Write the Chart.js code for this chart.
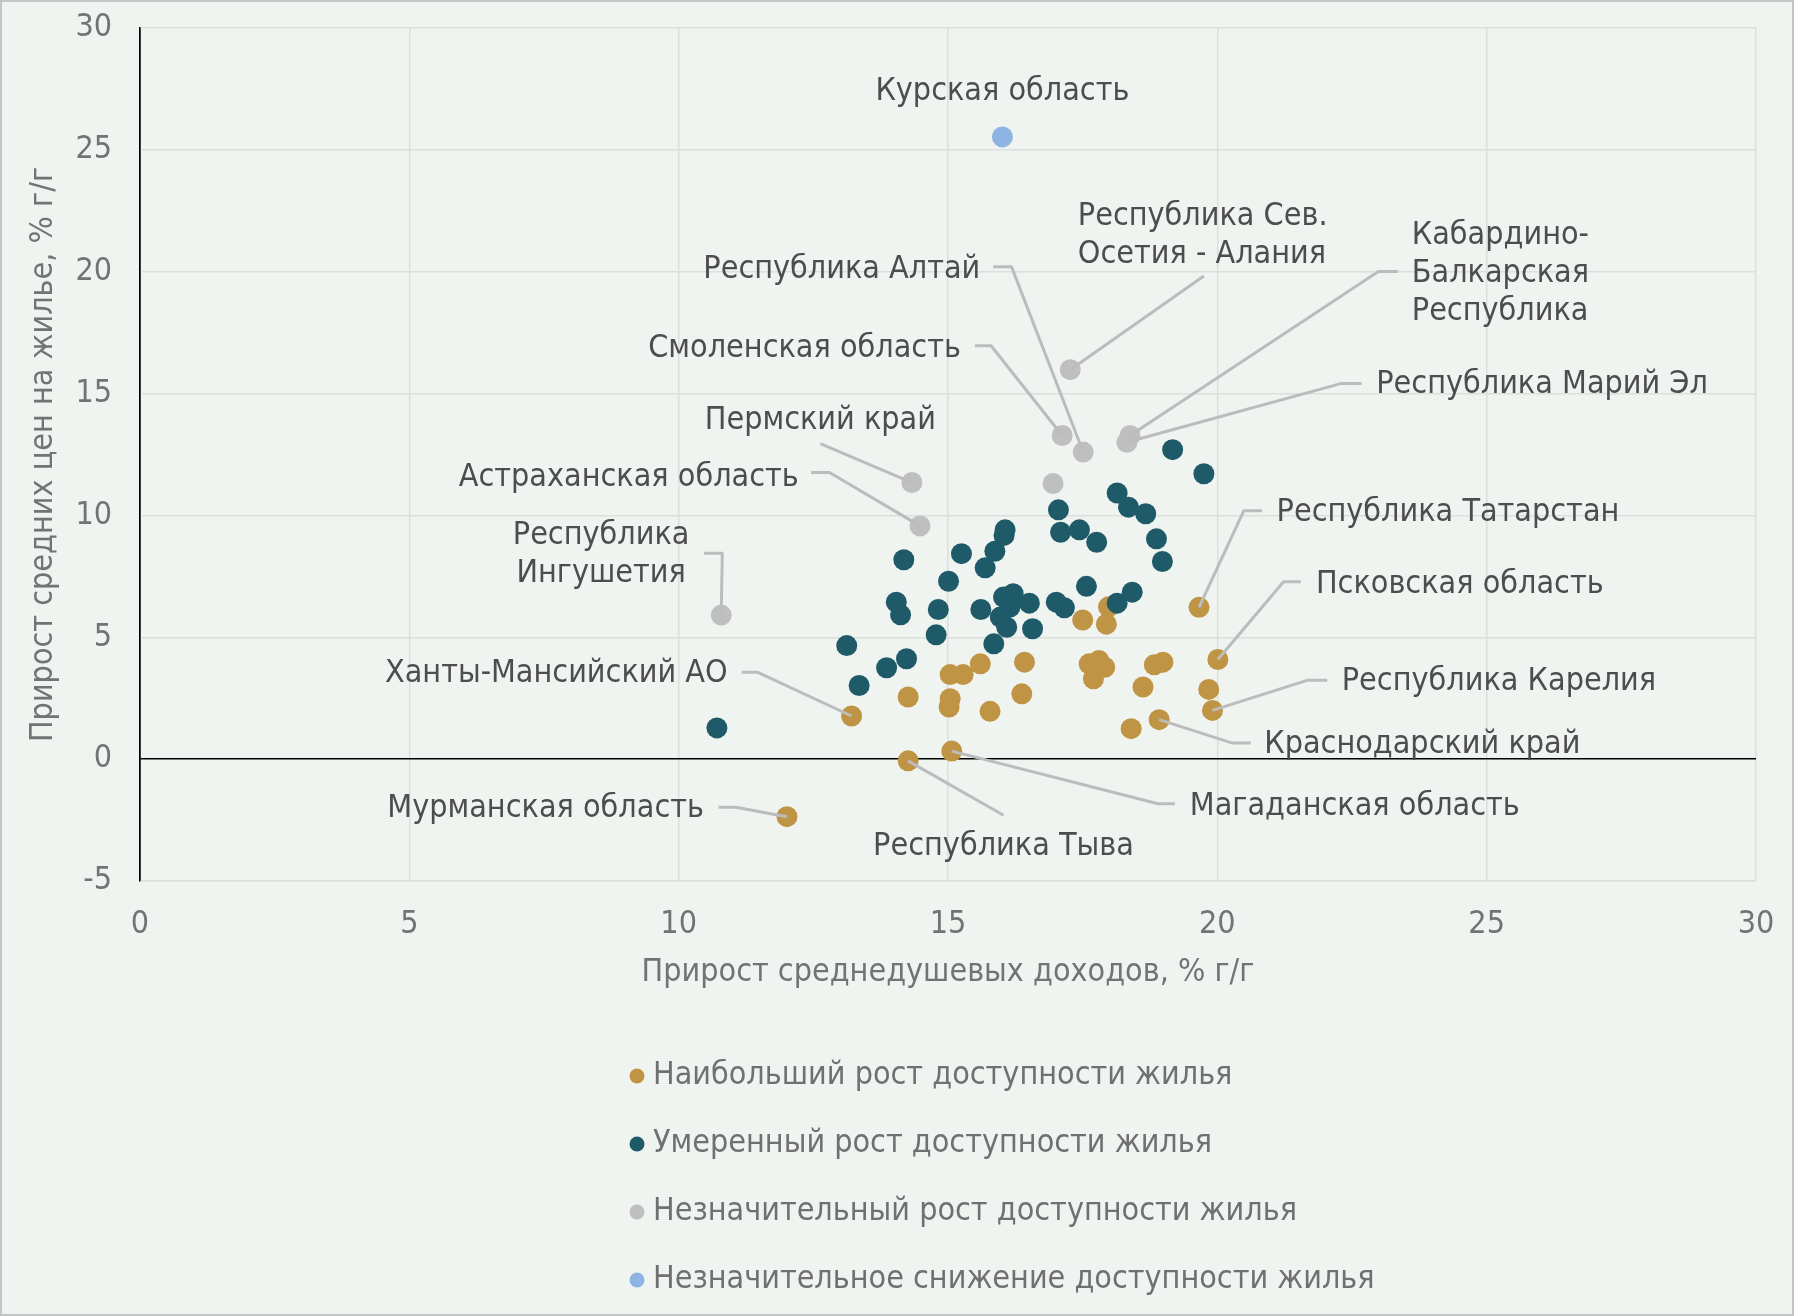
<!DOCTYPE html>
<html>
<head>
<meta charset="utf-8">
<script src="https://cdn.jsdelivr.net/npm/chart.js@4.4.1/dist/chart.umd.min.js"></script>
<style>
  body { margin: 0; background: #f0f4f1; }
  canvas { display: block; }
</style>
</head>
<body>
<canvas id="chart" width="1794" height="1316"></canvas>
<script>
'use strict';

// Прирост среднедушевых доходов (x) и прирост цен на жильё (y), % г/г
const goldX = [13.21, 12.01, 14.26, 15.07, 14.26, 15.04, 15.02, 15.78, 16.37, 15.04, 15.28, 15.60, 16.42, 17.50, 17.94,
               17.98, 17.62, 17.80, 17.91, 17.70, 18.62, 18.83, 18.99, 18.40, 18.92, 19.66, 19.84, 20.01, 19.91];
const goldY = [1.77, -2.36, -0.07, 0.33, 2.55, 2.48, 2.14, 1.96, 2.68, 3.47, 3.47, 3.91, 3.98, 5.71, 5.54,
               6.25, 3.91, 4.05, 3.77, 3.30, 2.96, 3.87, 3.98, 1.25, 1.62, 6.23, 2.86, 4.09, 2.00];

const tealX = [10.71, 13.12, 13.35, 13.86, 14.23, 14.18, 14.04, 14.12, 14.78, 14.82, 15.01, 15.25, 15.69, 15.87,
               16.06, 16.04, 15.61, 16.03, 16.21, 16.51, 15.97, 16.15, 16.09, 16.57, 15.85, 17.05, 17.09, 17.44,
               17.76, 18.14, 18.35, 18.67, 18.87, 18.98, 17.57, 18.42, 18.14, 17.01, 17.16, 19.17, 19.75];
const tealY = [1.28, 4.66, 3.02, 3.75, 4.12, 8.18, 6.44, 5.92, 5.10, 6.14, 7.30, 8.43, 7.85, 8.53,
               9.41, 9.18, 6.14, 6.65, 6.79, 6.40, 5.83, 6.24, 5.41, 5.35, 4.73, 10.23, 9.31, 9.41,
               8.90, 10.92, 10.34, 10.07, 9.04, 8.11, 7.09, 6.85, 6.40, 6.44, 6.21, 12.70, 11.71];

const grayX = [14.33, 14.48, 10.79, 16.95, 17.12, 17.51, 18.32, 18.38, 17.27];
const grayY = [11.35, 9.57, 5.91, 11.31, 13.28, 12.60, 13.00, 13.28, 15.98];

const blueX = [16.01];
const blueY = [25.53];

const seriesNames = [
  'Наибольший рост доступности жилья',
  'Умеренный рост доступности жилья',
  'Незначительный рост доступности жилья',
  'Незначительное снижение доступности жилья'
];
const seriesColors = ['#bf9444', '#1f5a69', '#bfbfbf', '#8db4e2'];

const xTicks = [0, 5, 10, 15, 20, 25, 30];
const yTicks = [-5, 0, 5, 10, 15, 20, 25, 30];

// подписи регионов: ds/i - точка, at - место текста, path - изломы выноски (в единицах осей)
const notes = [
  { text: ['Курская область'], ds: 3, i: 0, at: [16.01, 27.48], align: 'center', path: null },
  { text: ['Республика Сев.', 'Осетия - Алания'], ds: 2, i: 8, at: [17.41, 22.36], align: 'left', path: [[19.75, 19.82]] },
  { text: ['Республика Алтай'], ds: 2, i: 5, at: [15.60, 20.15], align: 'right', path: [[15.84, 20.20], [16.18, 20.20]] },
  { text: ['Кабардино-', 'Балкарская', 'Республика'], ds: 2, i: 7, at: [23.61, 21.56], align: 'left', path: [[23.35, 20.01], [22.99, 20.01]] },
  { text: ['Смоленская область'], ds: 2, i: 4, at: [15.24, 16.91], align: 'right', path: [[15.50, 16.96], [15.80, 16.96]] },
  { text: ['Республика Марий Эл'], ds: 2, i: 6, at: [22.95, 15.45], align: 'left', path: [[22.68, 15.41], [22.29, 15.41]] },
  { text: ['Пермский край'], ds: 2, i: 0, at: [12.63, 13.95], align: 'center', path: [[12.63, 12.95]] },
  { text: ['Астраханская область'], ds: 2, i: 1, at: [12.23, 11.65], align: 'right', path: [[12.46, 11.76], [12.80, 11.76]] },
  { text: ['Республика', 'Ингушетия'], ds: 2, i: 2, at: [8.56, 9.25], align: 'center', path: [[10.47, 8.45], [10.81, 8.45]] },
  { text: ['Ханты-Мансийский АО'], ds: 0, i: 0, at: [10.91, 3.57], align: 'right', path: [[11.17, 3.57], [11.46, 3.57]] },
  { text: ['Мурманская область'], ds: 0, i: 1, at: [10.47, -1.97], align: 'right', path: [[10.74, -1.97], [11.06, -1.97]] },
  { text: ['Республика Тыва'], ds: 0, i: 2, at: [16.03, -3.52], align: 'center', path: [[16.03, -2.30]] },
  { text: ['Магаданская область'], ds: 0, i: 3, at: [19.49, -1.88], align: 'left', path: [[19.21, -1.83], [18.90, -1.83]] },
  { text: ['Республика Татарстан'], ds: 0, i: 25, at: [21.10, 10.19], align: 'left', path: [[20.83, 10.19], [20.49, 10.19]] },
  { text: ['Псковская область'], ds: 0, i: 27, at: [21.83, 7.23], align: 'left', path: [[21.55, 7.28], [21.23, 7.28]] },
  { text: ['Республика Карелия'], ds: 0, i: 28, at: [22.31, 3.24], align: 'left', path: [[22.04, 3.24], [21.68, 3.24]] },
  { text: ['Краснодарский край'], ds: 0, i: 24, at: [20.87, 0.66], align: 'left', path: [[20.62, 0.66], [20.28, 0.66]] }
];

const FONT = "'DejaVu Sans Condensed', 'DejaVu Sans', sans-serif";

function toPoints(xs, ys) {
  return xs.map((x, k) => ({ x: x, y: ys[k] }));
}

const backdrop = {
  id: 'backdrop',
  beforeDraw(chart) {
    const c = chart.ctx;
    c.save();
    c.fillStyle = '#f0f4f1';
    c.fillRect(0, 0, chart.width, chart.height);
    c.strokeStyle = '#c3c6c4';
    c.lineWidth = 2;
    c.strokeRect(1, 1, chart.width - 2, chart.height - 2);
    c.restore();
  }
};

const callouts = {
  id: 'callouts',
  afterDatasetsDraw(chart) {
    const c = chart.ctx;
    const sx = chart.scales.x, sy = chart.scales.y;
    c.save();
    c.strokeStyle = '#bcbcbc';
    c.lineWidth = 3;
    c.lineJoin = 'round';
    notes.forEach(n => {
      if (!n.path) return;
      const pt = chart.data.datasets[n.ds].data[n.i];
      c.beginPath();
      n.path.forEach((p, k) => {
        const px = sx.getPixelForValue(p[0]), py = sy.getPixelForValue(p[1]);
        if (k === 0) c.moveTo(px, py); else c.lineTo(px, py);
      });
      c.lineTo(sx.getPixelForValue(pt.x), sy.getPixelForValue(pt.y));
      c.stroke();
    });
    c.fillStyle = '#4d4d4d';
    c.font = '32px ' + FONT;
    c.textBaseline = 'middle';
    notes.forEach(n => {
      c.textAlign = n.align;
      const tx = sx.getPixelForValue(n.at[0]);
      const ty = sy.getPixelForValue(n.at[1]) + 2;
      n.text.forEach((line, k) => c.fillText(line, tx, ty + k * 38));
    });
    c.restore();
  }
};

const legendList = {
  id: 'legendList',
  afterDraw(chart) {
    const c = chart.ctx;
    const top = chart.chartArea.bottom + 195;
    c.save();
    c.font = '32px ' + FONT;
    c.textBaseline = 'middle';
    c.textAlign = 'left';
    chart.data.datasets.forEach((ds, k) => {
      const y = top + k * 68;
      c.fillStyle = ds.backgroundColor;
      c.beginPath();
      c.arc(637, y, 7.5, 0, Math.PI * 2);
      c.fill();
      c.fillStyle = '#707070';
      c.fillText(ds.label, 653, y);
    });
    c.restore();
  }
};

const gridColor = '#dcdfdc';
const tickFont = { family: FONT, size: 32 };

new Chart(document.getElementById('chart'), {
  type: 'scatter',
  data: {
    datasets: [
      { label: seriesNames[0], data: toPoints(goldX, goldY), backgroundColor: seriesColors[0], order: 1 },
      { label: seriesNames[1], data: toPoints(tealX, tealY), backgroundColor: seriesColors[1], order: 0 },
      { label: seriesNames[2], data: toPoints(grayX, grayY), backgroundColor: seriesColors[2], order: 2 },
      { label: seriesNames[3], data: toPoints(blueX, blueY), backgroundColor: seriesColors[3], order: 3 }
    ].map(d => Object.assign(d, { pointRadius: 10.5, pointHoverRadius: 10.5, borderWidth: 0 }))
  },
  options: {
    responsive: false,
    animation: false,
    devicePixelRatio: 1,
    layout: { autoPadding: false, padding: { top: 28, right: 38, left: 0, bottom: 324 } },
    plugins: {
      legend: { display: false },
      tooltip: { enabled: false }
    },
    scales: {
      x: {
        type: 'linear',
        min: 0,
        max: 30,
        afterBuildTicks: s => { s.ticks = xTicks.map(v => ({ value: v })); },
        afterFit: s => { s.height = 111; s.paddingLeft = 0; s.paddingRight = 0; },
        ticks: { color: '#737373', font: tickFont, padding: 24 },
        grid: { color: c => c.tick && c.tick.value === 0 ? '#000000' : gridColor, drawTicks: false, lineWidth: 1.5 },
        border: { color: gridColor, width: 1.5 },
        title: {
          display: true,
          text: 'Прирост среднедушевых доходов, % г/г',
          color: '#737373',
          font: tickFont,
          padding: { top: 16, bottom: 0 }
        }
      },
      y: {
        type: 'linear',
        min: -5,
        max: 30,
        afterBuildTicks: s => { s.ticks = yTicks.map(v => ({ value: v })); },
        afterFit: s => { s.width = 140; s.paddingTop = 0; s.paddingBottom = 0; },
        ticks: { color: '#737373', font: tickFont, padding: 28 },
        grid: { color: c => c.tick && c.tick.value === 0 ? '#000000' : gridColor, drawTicks: false, lineWidth: 1.5 },
        border: { color: '#000000', width: 1.5 },
        title: {
          display: true,
          text: 'Прирост средних цен на жилье, % г/г',
          color: '#737373',
          font: tickFont,
          padding: { top: 24, bottom: 0 }
        }
      }
    }
  },
  plugins: [backdrop, callouts, legendList]
});
</script>
</body>
</html>
